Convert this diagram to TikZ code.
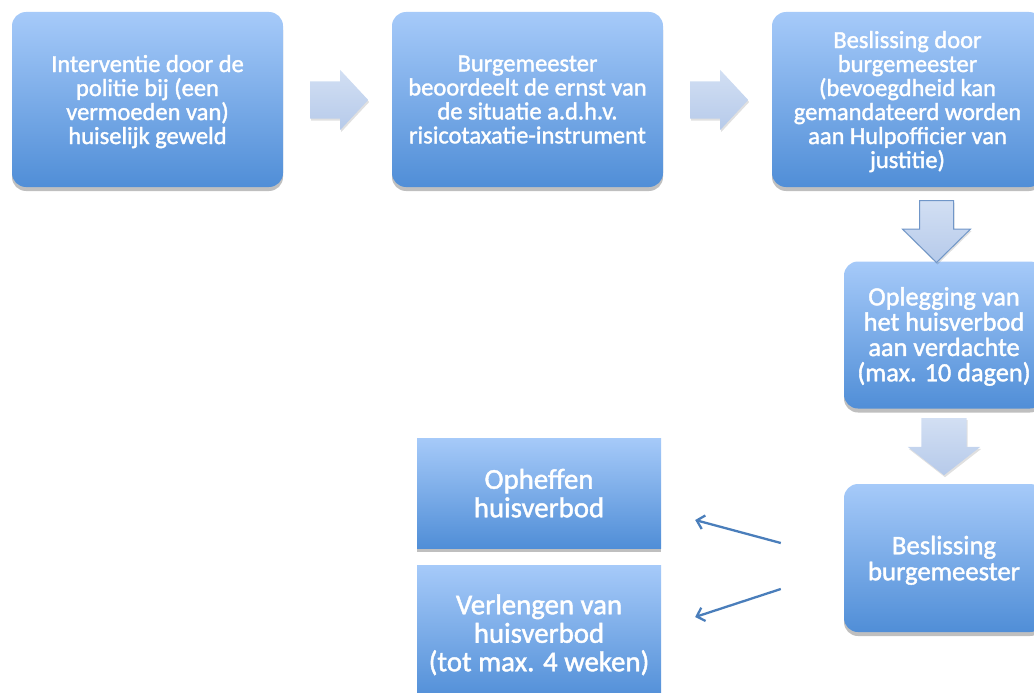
\documentclass[tikz,border=0pt]{standalone}
\usepackage{fontspec}
\setmainfont{Carlito}[FakeBold=1.5]
\usetikzlibrary{positioning, shapes.arrows, shadows, arrows.meta, calc}
\definecolor{boxtop}{RGB}{166,202,249}
\definecolor{boxbot}{RGB}{80,142,215}
\definecolor{arrtop}{RGB}{210,223,243}
\definecolor{arrbot}{RGB}{182,202,234}
\definecolor{arredge}{RGB}{112,150,200}
\definecolor{linkblue}{RGB}{74,126,187}

\begin{document}
\begin{tikzpicture}[x=1pt, y=-1pt,
        % Styles
        stap/.style={rounded corners=14pt, top color=boxtop, bottom color=boxbot, text=white, align=center, inner sep=0pt, minimum width=271pt, minimum height=175pt, font=\fontsize{24.5}{24}\selectfont, text depth=-3.5pt, drop shadow={shadow xshift=0pt, shadow yshift=-4pt, opacity=.25, fill=black}},
        besluit/.style={stap, minimum width=200pt, minimum height=148pt},
        uitkomst/.style={stap, sharp corners, minimum width=244pt, font=\fontsize{28.8}{28.5}\selectfont},
        pijl/.style={single arrow, top color=arrtop, bottom color=arrbot, inner xsep=0pt, inner ysep=18.5pt, single arrow head extend=11.5pt, single arrow tip angle=94, minimum width=60pt, minimum height=58pt, anchor=tail, drop shadow={shadow xshift=1pt, shadow yshift=-2pt, opacity=.12, fill=black}},
        pijlneer/.style={pijl, shape border rotate=270, inner ysep=0pt},
        lijn/.style={draw=linkblue, line width=2.3pt, -{Straight Barb[length=7pt, width=14pt]}},
    ]
        \useasboundingbox (0,0) rectangle (1034,693);
        \clip (0,0) rectangle (1034,693);

        % === Top row ===
        \node[stap] (interventie) at (147.5,99.5) {Interventie door de\\politie bij (een\\vermoeden van)\\huiselijk geweld};
        \node[stap] (beoordeling) at (527.5,99.5) {Burgemeester\\beoordeelt de ernst van\\de situatie a.d.h.v.\\risicotaxatie-instrument};
        \node[stap] (beslissing) at (907.5,99.5) {Beslissing door\\burgemeester\\(bevoegdheid kan\\gemandateerd worden\\aan Hulpofficier van\\justitie)};

        % === Right column ===
        \node[besluit, minimum height=147pt, font=\fontsize{26.3}{25.3}\selectfont, text depth=1.6pt] (oplegging) at (944,335) {Oplegging van\\het huisverbod\\aan verdachte\\(max. 10 dagen)};
        \node[besluit, font=\fontsize{26.7}{26}\selectfont, text depth=-2.2pt] (besluit) at (944,558) {Beslissing\\burgemeester};

        % === Outcomes ===
        \node[uitkomst, minimum height=110pt] (opheffen) at (539,493) {Opheffen\\huisverbod};
        \node[uitkomst, minimum height=136pt, text depth=0.5pt] (verlengen) at (539,633) {Verlengen van\\huisverbod\\(tot max. 4 weken)};

        % === Block arrows ===
        \node[pijl] (p1) at (310,100) {};
        \node[pijl] (p2) at (690,100) {};
        \node[pijlneer, draw=arredge, line width=1pt, inner xsep=16.5pt, single arrow head extend=17pt, single arrow tip angle=91, minimum width=67pt, minimum height=62pt] (p3) at (936.5,200) {};
        \node[pijlneer, inner xsep=22.5pt, single arrow head extend=13.5pt, single arrow tip angle=104, minimum width=72pt, minimum height=57pt] (p4) at (944,418) {};

        % === Choice arrows ===
        \draw[lijn] ([xshift=-63pt, yshift=15pt]besluit.west) -- ([xshift=34pt, yshift=-27pt]opheffen.east);
        \draw[lijn] ([xshift=-63pt, yshift=-31pt]besluit.west) -- ([xshift=34pt, yshift=16pt]verlengen.east);

    \end{tikzpicture}
\end{document}
